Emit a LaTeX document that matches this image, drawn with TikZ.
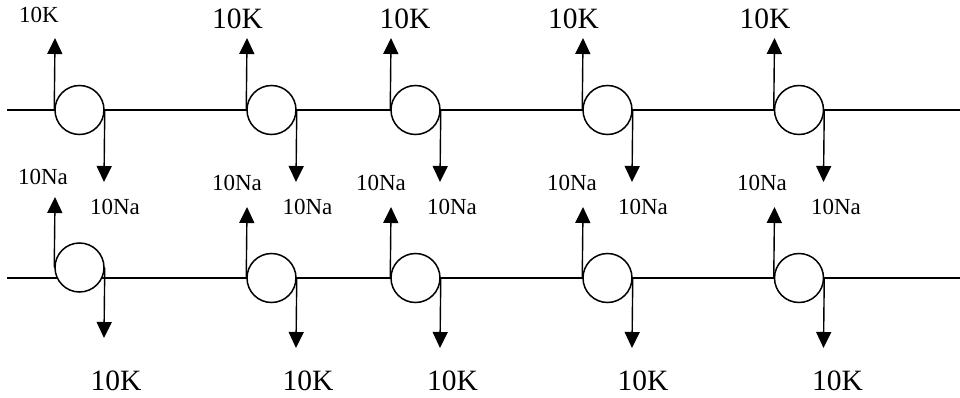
\documentclass[tikz,border=0pt]{standalone}
\usepackage{fontspec}
\setmainfont{Liberation Serif}
\usetikzlibrary{arrows.meta}
\begin{document}
\begin{tikzpicture}[x=1pt,y=-1pt,
  pump/.style={circle,draw,fill=white,line width=1.5pt,minimum size=49pt,inner sep=0pt},
  flux/.style={line width=1.4pt,-{Triangle[width=15pt,length=16pt]}},
  membrane/.style={line width=2pt},
  big/.style={font=\fontsize{29.5}{31}\selectfont,inner sep=0pt},
  small/.style={font=\fontsize{23}{25}\selectfont,inner sep=0pt}]
\useasboundingbox (0,0) rectangle (960,398);
\coordinate (tl) at (7,110); \coordinate (tr) at (960,110);
\coordinate (bl) at (7,278); \coordinate (br) at (960,278);
\draw[membrane] (tl) -- (tr);
\draw[membrane] (bl) -- (br);
% top row
\foreach \i/\x in {1/79.5,2/271.5,3/415.5,4/607.5,5/799}{
  \node[pump] (t\i) at (\x,110) {};
  \coordinate (tu\i) at (\x-24.5,38);
  \coordinate (td\i) at (\x+24.5,182);
  \draw[flux] (t\i.west) -- (tu\i);
  \draw[flux] (t\i.east) -- (td\i);
}
% bottom row
\foreach \i/\x/\y/\u/\d in {1/79.5/267.5/197/338,2/271.5/278/207/348,3/415.5/278/207/348,4/607.5/278/207/348,5/799/278/207/348}{
  \node[pump] (b\i) at (\x,\y) {};
  \coordinate (bu\i) at (\x-24.5,\u);
  \coordinate (bd\i) at (\x+24.5,\d);
  \draw[flux] (b\i.west) -- (bu\i);
  \draw[flux] (b\i.east) -- (bd\i);
}
% top labels
\node[small] (k1) at (39,15) {10K};
\node[big] (k2) at (237.5,19) {10K};
\node[big] (k3) at (405,19) {10K};
\node[big] (k4) at (573.5,19) {10K};
\node[big] (k5) at (765,19) {10K};
% left Na labels
\node[small] (nl1) at (43,177) {10Na};
\node[small] (nl2) at (237,183) {10Na};
\node[small] (nl3) at (381,183) {10Na};
\node[small] (nl4) at (572,183) {10Na};
\node[small] (nl5) at (762,183) {10Na};
% right Na labels
\node[small] (nr1) at (115,207) {10Na};
\node[small] (nr2) at (307.5,207) {10Na};
\node[small] (nr3) at (452,207) {10Na};
\node[small] (nr4) at (643,207) {10Na};
\node[small] (nr5) at (836,207) {10Na};
% bottom labels
\node[big] (kb1) at (116,381) {10K};
\node[big] (kb2) at (308,381) {10K};
\node[big] (kb3) at (452.5,381) {10K};
\node[big] (kb4) at (643,381) {10K};
\node[big] (kb5) at (837.5,381) {10K};
\end{tikzpicture}
\end{document}
